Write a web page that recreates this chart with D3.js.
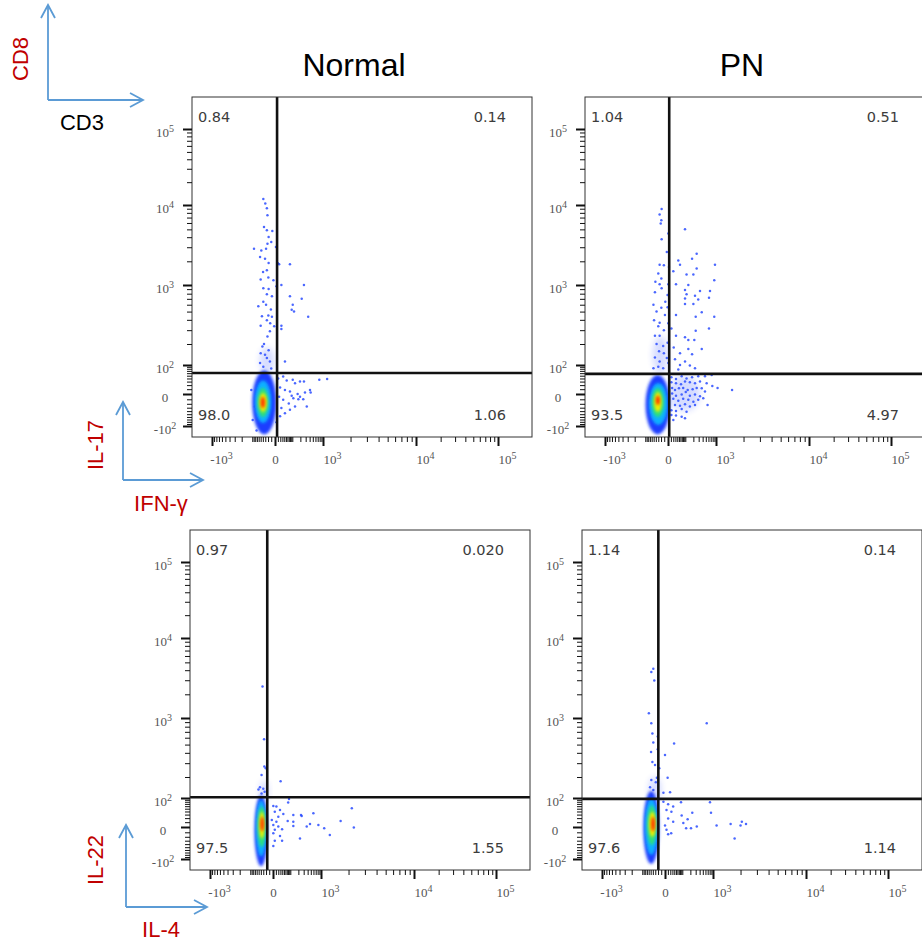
<!DOCTYPE html>
<html>
<head>
<meta charset="utf-8">
<script src="https://cdn.jsdelivr.net/npm/d3@7"></script>
<style>
  body { margin: 0; background: #fff; }
  svg { display: block; }
</style>
</head>
<body>
<svg id="chart" width="922" height="946"></svg>
<script>
// ---- data ----
const panelTitles = ["Normal", "PN"];
const rowMarkers = [["IL-17", "IFN-γ"], ["IL-22", "IL-4"]];

const xTickValues = [-1000, 0, 1000, 10000, 100000];
const xTickLabels = ["-10^3", "0", "10^3", "10^4", "10^5"];
const yTickValues = [-100, 0, 100, 1000, 10000, 100000];
const yTickLabels = ["-10^2", "0", "10^2", "10^3", "10^4", "10^5"];

// quadrant percentages: upper-left, upper-right, lower-left, lower-right
const normalIfngQuad = ["0.84", "0.14", "98.0", "1.06"];
const pnIfngQuad = ["1.04", "0.51", "93.5", "4.97"];
const normalIl4Quad = ["0.97", "0.020", "97.5", "1.55"];
const pnIl4Quad = ["1.14", "0.14", "97.6", "1.14"];

// quadrant gate [x, y]
const normalIfngGate = [7, 61];
const pnIfngGate = [4, 57];
const normalIl4Gate = [-16, 103];
const pnIl4Gate = [-19, 95];

// dense core, outer (blue) to inner (red): [xMin, xMax, yMin, yMax]
const normalIfngCore = [[-100, 4, -150, 72], [-82, -10, -85, 33], [-67, -19, -60, 13], [-57, -24, -43, 2], [-50, -31, -31, -5]];
const pnIfngCore = [[-98, 6, -150, 53], [-75, -1, -95, 26], [-60, -11, -60, 13], [-48, -18, -43, 4], [-40, -24, -23, -3]];
const normalIl4Core = [[-72, -15, -142, 110], [-64, -19, -88, 89], [-55, -21, -49, 58], [-48, -25, -24, 39], [-42, -27, -8, 24]];
const pnIl4Core = [[-92, -17, -128, 128], [-82, -21, -81, 98], [-68, -26, -43, 63], [-59, -28, -20, 39], [-48, -31, -8, 24]];

// sparse blue haze around the cores
const normalIfngHaze = [[-55, -2, 60, 180]];
const pnIfngHaze = [[-55, 0, 60, 250], [3, 330, -40, 50]];
const normalIl4Haze = [[-45, -12, 80, 180]];
const pnIl4Haze = [[-60, -10, 80, 200]];

// single events [x, y]
const normalIfngPts = [
  [-38, 12000], [-30, 10500], [-24, 9100], [-22, 7500], [-35, 5350], [-24, 4870], [-7, 4770], [-18, 4020],
  [-10, 3480], [-22, 3320], [-88, 2880], [-47, 2740], [-27, 2880], [3, 3010], [-53, 2260], [-31, 2160],
  [-18, 1900], [15, 1830], [79, 1830], [-39, 1470], [-24, 1540], [-50, 1180], [-19, 1250], [-4, 1150],
  [5, 970], [25, 1000], [264, 1000], [-38, 920], [-18, 900], [-24, 790], [-8, 750], [79, 750], [222, 700],
  [-38, 650], [-27, 600], [-62, 575], [104, 600], [-11, 530], [117, 500], [-44, 440], [-19, 450], [-8, 435],
  [360, 435], [-24, 395], [-13, 365], [-50, 340], [-2, 335], [25, 340], [-14, 290], [-22, 250], [-35, 200],
  [-42, 185], [-18, 165], [-50, 150], [-31, 142], [-24, 128], [-14, 113], [-53, 107], [-38, 91], [-10, 81],
  [44, 113], [10, 1890], [94, 525], [25, 310],
  [11, 40], [34, 47], [55, 33], [104, 36], [128, 25], [194, 30], [264, 30], [410, 8], [780, 36], [1110, 38],
  [19, 14], [44, 8], [79, 5], [94, -3], [160, 0], [194, -5], [285, 3], [430, 3], [15, -5], [34, -11],
  [70, -19], [110, -8], [170, -10], [250, -10], [325, -27], [25, -31], [79, -36], [128, -27], [44, -47],
  [19, -57], [5, -82], [-107, 8], [-82, -27], [-97, -72], [-72, -125]
];
const pnIfngPts = [
  [-18, 8900], [-25, 7650], [-19, 6500], [-21, 5900], [97, 5010], [1, 4430], [-18, 3760], [-3, 2610],
  [258, 2490], [180, 2160], [46, 2050], [57, 1810], [-25, 1810], [-11, 1780], [934, 1810], [258, 1620],
  [3, 1690], [20, 1500], [-30, 1400], [112, 1360], [200, 1360], [-19, 1210], [890, 1150], [-42, 1100],
  [-25, 1020], [1, 1020], [33, 1020], [131, 1000], [-18, 920], [97, 880], [330, 860], [668, 860], [-44, 830],
  [112, 790], [-1, 775], [227, 760], [97, 705], [290, 690], [623, 720], [-7, 650], [-51, 600], [97, 610],
  [200, 610], [-19, 555], [-1, 560], [-37, 500], [375, 490], [-8, 455], [33, 455], [240, 435], [890, 435],
  [-48, 395], [-25, 370], [1, 365], [-30, 335], [12, 315], [-11, 300], [240, 295], [623, 315], [-44, 255],
  [-25, 255], [33, 255], [97, 245], [131, 225], [215, 225], [-1, 208], [-37, 200], [-13, 188], [22, 180],
  [131, 172], [375, 172], [-27, 160], [-11, 150], [57, 150], [180, 145], [-44, 130], [-3, 128], [28, 122],
  [-25, 113], [97, 113], [1, 107], [57, 100], [150, 97], [-51, 82], [-30, 91], [-13, 82], [46, 77], [227, 82],
  [12, 44], [33, 38], [69, 48], [112, 40], [180, 44], [290, 48], [472, 48], [750, 53], [12, 28], [33, 25],
  [64, 22], [97, 30], [150, 28], [227, 25], [330, 30], [530, 25], [780, 18], [1040, 13], [1500, 8], [15, 13],
  [28, 8], [50, 12], [81, 13], [124, 8], [188, 10], [258, 13], [375, 12], [472, 5], [15, 1], [33, -3],
  [69, -1], [104, 4], [150, -3], [227, -1], [330, -4], [418, -8], [20, -9], [46, -13], [81, -9], [131, -11],
  [200, -15], [290, -11], [28, -23], [57, -25], [97, -21], [150, -27], [227, -23], [565, -23], [12, -37],
  [33, -40], [69, -34], [112, -42], [12, -53], [33, -55], [69, -59], [20, -72], [97, -65]
];
const normalIl4Pts = [
  [-33, 2510], [-27, 575], [-26, 272], [-21, 260], [-37, 212], [31, 175], [-44, 145], [-30, 138], [-51, 134],
  [-25, 125], [-37, 117], [88, 95], [81, 76], [1, 61], [12, 59], [28, 45], [6, 39], [46, 32], [131, 29],
  [258, 26], [598, 34], [2170, 52], [20, 24], [-3, 15], [12, 11], [77, 13], [131, 11], [245, 29], [472, 6],
  [840, 4], [1640, 13], [1, 4], [20, 1], [131, 2], [375, 1], [1085, -2], [2280, -1], [6, -5], [39, -4],
  [1, -12], [1250, -16], [28, -18], [227, -24], [6, -30], [39, -30], [1, -46]
];
const pnIl4Pts = [
  [-38, 4170], [-47, 3790], [-34, 2985], [655, 875], [-59, 1150], [-47, 875], [-42, 670], [-21, 620],
  [-38, 530], [39, 515], [-48, 410], [-21, 440], [0, 377], [-42, 310], [-31, 285], [-16, 260], [9, 195],
  [-47, 182], [-28, 170], [-24, 195], [19, 122], [-4, 120], [-53, 145], [-38, 132], [88, 78], [817, 78],
  [-4, 80], [11, 68], [34, 59], [232, 36], [875, 36], [5, 45], [25, 39], [94, 27], [160, 17], [2065, 11],
  [2290, 6], [2000, 3], [1560, 6], [1095, 3], [11, 19], [34, 11], [110, 8], [325, 1], [141, -2], [210, -2],
  [5, -5], [24, -12], [1725, -24], [0, 3], [11, -14]
];

// ---- layout ----
const SIZE = 340;
const densityColors = ["#1a3cff", "#0ab0ff", "#2ee07a", "#eef000", "#ff3200"];
const axisBlue = "#5b9bd5";
const markerRed = "#c00000";

// biexponential-like display scales (frame-relative pixels)
const x = d3.scaleSymlog().constant(50)
  .domain([-1000, 0, 1000, 10000, 100000])
  .range([20, 83, 131, 224, 306]);
const y = d3.scaleSymlog().constant(50)
  .domain([-100, 0, 100, 1000, 10000, 100000])
  .range([329, 297, 268, 188, 108, 32]);

const panels = [
  { left: 192, top: 97, quad: normalIfngQuad, gate: normalIfngGate, core: normalIfngCore, haze: normalIfngHaze, pts: normalIfngPts },
  { left: 585, top: 97, quad: pnIfngQuad, gate: pnIfngGate, core: pnIfngCore, haze: pnIfngHaze, pts: pnIfngPts },
  { left: 190, top: 530, quad: normalIl4Quad, gate: normalIl4Gate, core: normalIl4Core, haze: normalIl4Haze, pts: normalIl4Pts },
  { left: 582, top: 530, quad: pnIl4Quad, gate: pnIl4Gate, core: pnIl4Core, haze: pnIl4Haze, pts: pnIl4Pts }
];

const svg = d3.select("#chart");
const defs = svg.append("defs");
defs.append("filter").attr("id", "soft").attr("x", "-50%").attr("y", "-50%").attr("width", "200%").attr("height", "200%")
  .append("feGaussianBlur").attr("stdDeviation", 1.4);
defs.append("filter").attr("id", "haze").attr("x", "-50%").attr("y", "-50%").attr("width", "200%").attr("height", "200%")
  .append("feGaussianBlur").attr("stdDeviation", 3);

// minor ticks 1..9 x decade, both signs, skipping the labelled ones
const decades = [10, 100, 1000, 10000];
const allMinor = decades.flatMap(d => d3.range(1, 10).flatMap(m => [m * d, -m * d]));
const xMinor = allMinor.filter(v => !xTickValues.includes(v) && x(v) >= 10 && x(v) <= SIZE);
const yMinor = allMinor.filter(v => !yTickValues.includes(v) && y(v) >= 0 && y(v) <= SIZE);

// "10^3" -> 10 with superscript 3
function powLabel(sel, label) {
  const parts = label.split("^");
  sel.text(parts[0]);
  if (parts[1]) {
    sel.append("tspan").attr("dy", "-0.55em").attr("font-size", "10px").text(parts[1]);
  }
}

const ellipse = (sel) => sel
  .attr("cx", d => (x(d[0]) + x(d[1])) / 2)
  .attr("cy", d => (y(d[2]) + y(d[3])) / 2)
  .attr("rx", d => Math.abs(x(d[1]) - x(d[0])) / 2)
  .attr("ry", d => Math.abs(y(d[2]) - y(d[3])) / 2);

panels.forEach((p, k) => {
  const g = svg.append("g").attr("transform", `translate(${p.left},${p.top})`);
  const clipId = `clip${k}`;
  defs.append("clipPath").attr("id", clipId)
    .append("rect").attr("width", SIZE).attr("height", SIZE);
  const plot = g.append("g").attr("clip-path", `url(#${clipId})`);

  plot.selectAll("ellipse.haze").data(p.haze).join("ellipse")
    .attr("class", "haze").call(ellipse)
    .attr("fill", densityColors[0]).attr("opacity", 0.18).attr("filter", "url(#haze)");

  plot.selectAll("circle.pt").data(p.pts).join("circle")
    .attr("class", "pt")
    .attr("cx", d => x(d[0])).attr("cy", d => y(d[1])).attr("r", 1.25)
    .attr("fill", "#2a4cff").attr("opacity", 0.85);

  plot.selectAll("ellipse.core").data(p.core).join("ellipse")
    .attr("class", "core").call(ellipse)
    .attr("fill", (d, i) => densityColors[i]).attr("filter", "url(#soft)");

  // quadrant gate
  g.append("line").attr("x1", x(p.gate[0])).attr("x2", x(p.gate[0])).attr("y1", 0).attr("y2", SIZE)
    .attr("stroke", "#111").attr("stroke-width", 2.6);
  g.append("line").attr("x1", 0).attr("x2", SIZE).attr("y1", y(p.gate[1])).attr("y2", y(p.gate[1]))
    .attr("stroke", "#111").attr("stroke-width", 2.6);

  g.append("rect").attr("width", SIZE).attr("height", SIZE)
    .attr("fill", "none").attr("stroke", "#333").attr("stroke-width", 1);

  // axes
  const gx = g.append("g").attr("transform", `translate(0,${SIZE})`);
  gx.append("g").call(d3.axisBottom(x).tickValues(xMinor).tickSize(5).tickFormat(""));
  gx.append("g").attr("class", "major")
    .call(d3.axisBottom(x).tickValues(xTickValues).tickSize(9).tickPadding(9).tickFormat(""));
  gx.selectAll(".major .tick text").each(function (d) {
    const label = xTickLabels[xTickValues.indexOf(d)];
    d3.select(this).attr("x", label.includes("^") ? 9 : 0).call(powLabel, label);
  });

  const gy = g.append("g");
  gy.append("g").call(d3.axisLeft(y).tickValues(yMinor).tickSize(5).tickFormat(""));
  gy.append("g").attr("class", "major")
    .call(d3.axisLeft(y).tickValues(yTickValues).tickSize(9).tickFormat(""));
  gy.selectAll(".major .tick text").each(function (d) {
    const label = yTickLabels[yTickValues.indexOf(d)];
    d3.select(this).attr("x", -27).attr("dy", "0.6em").attr("text-anchor", "middle").call(powLabel, label);
  });

  g.selectAll(".domain").remove();
  g.selectAll(".tick line").attr("stroke", "#111");
  g.selectAll(".major .tick line").attr("stroke-width", 2);
  g.selectAll(".tick text")
    .attr("font-family", "'Liberation Serif', serif").attr("font-size", 13).attr("fill", "#555");

  // quadrant percentages
  const qpos = [[6, 25, "start"], [314, 25, "end"], [6, 323, "start"], [314, 323, "end"]];
  g.selectAll("text.quad").data(p.quad).join("text")
    .attr("class", "quad")
    .attr("x", (d, i) => qpos[i][0]).attr("y", (d, i) => qpos[i][1])
    .attr("text-anchor", (d, i) => qpos[i][2])
    .attr("font-family", "'DejaVu Sans', sans-serif").attr("font-size", 14.5).attr("fill", "#3c3c3c")
    .text(d => d);
});

// column titles
const titleX = [354, 742];
svg.selectAll("text.title").data(panelTitles).join("text")
  .attr("class", "title")
  .attr("x", (d, i) => titleX[i]).attr("y", 76)
  .attr("text-anchor", "middle")
  .attr("font-family", "'Liberation Sans', Arial, sans-serif").attr("font-size", 32).attr("fill", "#000")
  .text(d => d);

// marker arrows
function arrow(cx, cy, len, vertical) {
  const g = svg.append("g").attr("stroke", axisBlue).attr("stroke-width", 1.8).attr("fill", "none");
  if (vertical) {
    g.append("line").attr("x1", cx).attr("y1", cy).attr("x2", cx).attr("y2", cy - len);
    g.append("polyline").attr("points", `${cx - 7},${cy - len + 13} ${cx},${cy - len} ${cx + 7},${cy - len + 13}`);
  } else {
    g.append("line").attr("x1", cx).attr("y1", cy).attr("x2", cx + len).attr("y2", cy);
    g.append("polyline").attr("points", `${cx + len - 13},${cy - 7} ${cx + len},${cy} ${cx + len - 13},${cy + 7}`);
  }
}
arrow(48, 100, 95, true);
arrow(48, 100, 95, false);
arrow(123, 480, 78, true);
arrow(123, 480, 80, false);
arrow(126, 907, 82, true);
arrow(126, 907, 81, false);

const labelFont = "'Liberation Sans', Arial, sans-serif";
svg.append("text").attr("transform", "translate(28,59) rotate(-90)")
  .attr("text-anchor", "middle").attr("font-family", labelFont).attr("font-size", 22)
  .attr("fill", markerRed).text("CD8");
svg.append("text").attr("x", 82).attr("y", 130)
  .attr("text-anchor", "middle").attr("font-family", labelFont).attr("font-size", 22)
  .attr("fill", "#000").text("CD3");

const rowY = [[445, 480, 511], [860, 907, 937]];
rowMarkers.forEach((m, r) => {
  svg.append("text").attr("transform", `translate(103,${rowY[r][0]}) rotate(-90)`)
    .attr("text-anchor", "middle").attr("font-family", labelFont).attr("font-size", 22)
    .attr("fill", markerRed).text(m[0]);
  svg.append("text").attr("x", 161).attr("y", rowY[r][2])
    .attr("text-anchor", "middle").attr("font-family", labelFont).attr("font-size", 22)
    .attr("fill", markerRed).text(m[1]);
});
</script>
</body>
</html>
